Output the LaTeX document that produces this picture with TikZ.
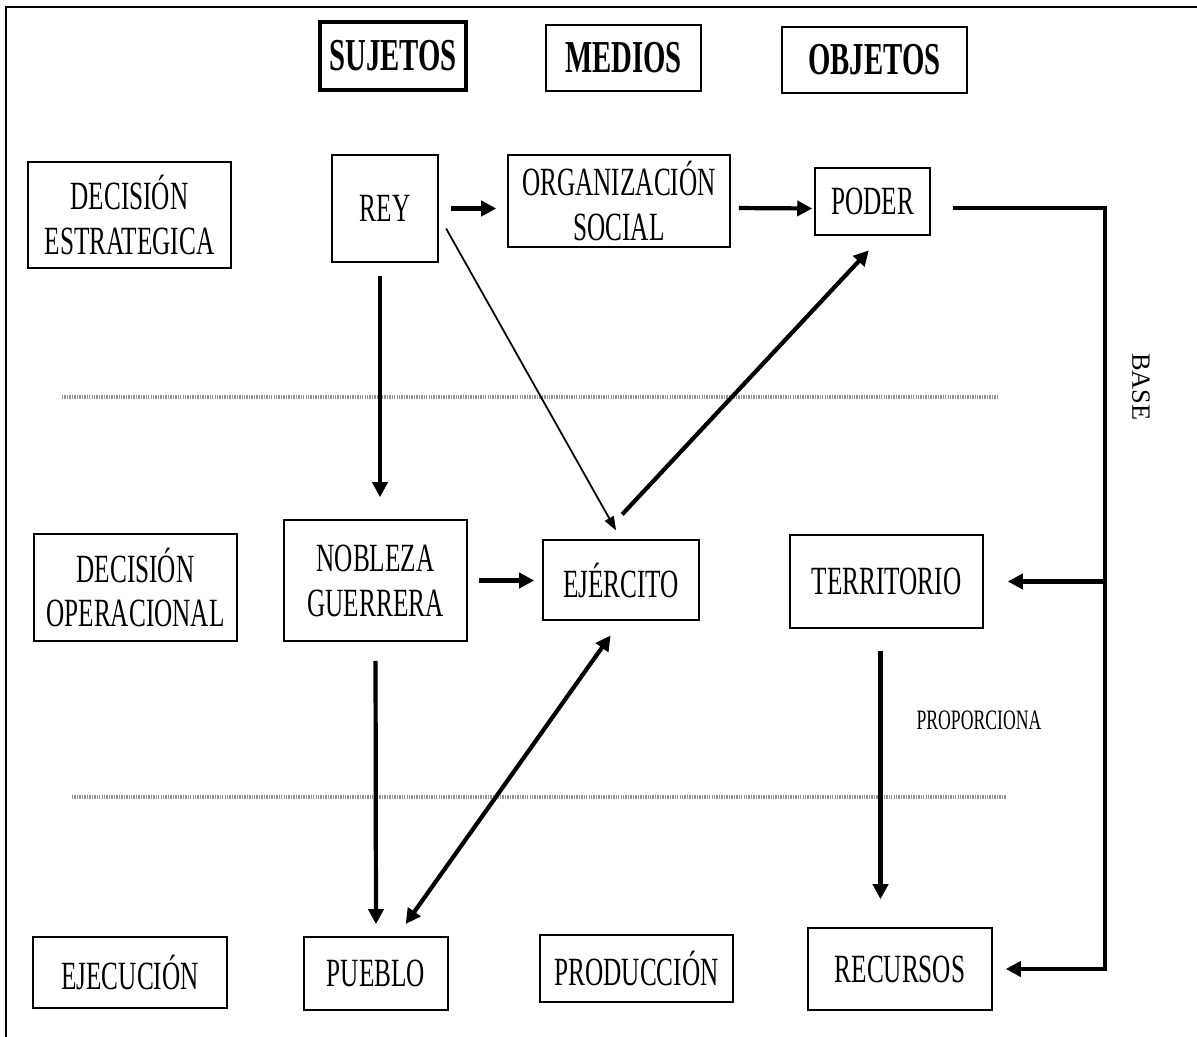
\documentclass[tikz,border=0pt]{standalone}
\usepackage{fontspec}
\setmainfont{Liberation Serif}[FakeStretch=0.63]
\newfontfamily\basefont{Liberation Serif}
\usetikzlibrary{arrows.meta}

\begin{document}
\begin{tikzpicture}[x=0.02cm, y=-0.02cm, >={Triangle[length=0.3cm, width=0.3cm]},
    caja/.style={draw, line width=.9pt, align=center, inner sep=0pt, font=\fontsize{22.8}{25.6}\selectfont},
    encabezado/.style={caja, font=\fontsize{26}{30}\selectfont\bfseries},
    flecha/.style={->, line width=2.4pt, shorten <=0.24cm, shorten >=0.22cm},
    fina/.style={-{Triangle[length=0.28cm, width=0.2cm]}, line width=1pt},
    punteada/.style={gray!85, line width=1.8pt, dash pattern=on .8pt off .6pt}]
    \useasboundingbox (0, 0) rectangle (1197, 1037);
    \draw[line width=1.4pt] (6, 1037) -- (6, 7) -- (1197, 7);

    % encabezados
    \node[encabezado, line width=2.4pt, minimum width=2.92cm, minimum height=1.36cm] (sujetos) at (393, 56) {SUJETOS};
    \node[encabezado, minimum width=3.1cm, minimum height=1.32cm] (medios) at (623.5, 58) {MEDIOS};
    \node[encabezado, minimum width=3.7cm, minimum height=1.32cm] (objetos) at (874.5, 60) {OBJETOS};

    % niveles
    \node[caja, minimum width=4.06cm, minimum height=2.12cm] (decest) at (129.5, 215) {DECISI\'ON\\ESTRATEGICA};
    \node[caja, minimum width=4.06cm, minimum height=2.14cm] (decop) at (135.5, 587.5) {DECISI\'ON\\OPERACIONAL};
    \node[caja, minimum width=3.88cm, minimum height=1.42cm] (ejec) at (130, 972.5) {EJECUCI\'ON};

    \node[caja, minimum width=2.12cm, minimum height=2.14cm] (rey) at (385, 208.5) {REY};
    \node[caja, minimum width=4.44cm, minimum height=1.84cm] (org) at (619, 201) {ORGANIZACI\'ON\\SOCIAL};
    \node[caja, minimum width=2.3cm, minimum height=1.34cm] (poder) at (872.5, 201.5) {PODER};

    \node[caja, minimum width=3.66cm, minimum height=2.42cm] (nobleza) at (375.5, 580.5) {NOBLEZA\\GUERRERA};
    \node[caja, minimum width=3.12cm, minimum height=1.6cm] (ejercito) at (621, 580) {EJ\'ERCITO};
    \node[caja, minimum width=3.86cm, minimum height=1.86cm] (territorio) at (886.5, 581.5) {TERRITORIO};

    \node[caja, minimum width=2.88cm, minimum height=1.46cm] (pueblo) at (376, 973.5) {PUEBLO};
    \node[caja, minimum width=3.86cm, minimum height=1.34cm] (produccion) at (636.5, 968.5) {PRODUCCI\'ON};
    \node[caja, minimum width=3.68cm, minimum height=1.64cm] (recursos) at (900, 969) {RECURSOS};

    \draw[punteada] (62, 397) -- (998, 397);
    \draw[punteada] (72, 797) -- (1006, 797);

    % flechas
    \draw[flecha] (rey.east) -- (rey.east -| org.west);
    \draw[flecha, shorten <=0.16cm, shorten >=0.04cm] ([yshift=-0.14cm]org.east) -- ([yshift=-0.14cm]poder.west);
    \draw[flecha, shorten <=0.26cm, shorten >=0.44cm] ([xshift=-0.1cm]rey.south) -- ([xshift=-0.1cm]rey.south |- nobleza.north);
    \draw[fina, shorten <=0.3cm, shorten >=0.2cm] ([yshift=-0.14cm]rey.east) -- (ejercito.north);
    \draw[flecha, shorten <=0.68cm, shorten >=0.4cm] ([xshift=-0.44cm]ejercito.north) -- ([xshift=0.2cm]poder.south);
    \draw[flecha, shorten <=0.22cm, shorten >=0.16cm] (nobleza.east) -- (nobleza.east -| ejercito.west);
    \draw[flecha, shorten <=0.38cm, shorten >=0.24cm] (nobleza.south) -- (pueblo.north);
    \draw[flecha, <->, shorten <=0.36cm, shorten >=0.3cm] (ejercito.south) -- ([xshift=0.42cm]pueblo.north);
    \draw[flecha, shorten <=0.44cm, shorten >=0.56cm] ([xshift=-0.12cm]territorio.south) -- ([xshift=-0.12cm]territorio.south |- recursos.north);

    \coordinate (base) at (1105, 208);
    \draw[flecha, shorten <=0.44cm, shorten >=0.26cm] (poder.east |- base) -- (base) |- (recursos.east);
    \draw[flecha, shorten <=0pt, shorten >=0.48cm] (base |- territorio.east) -- (territorio.east);

    \node[font=\fontsize{16}{18}\selectfont] (proporciona) at (979, 720) {PROPORCIONA};
    \node[rotate=-90, font=\basefont\fontsize{15}{18}\selectfont] (baselbl) at (1141, 387) {BASE};
\end{tikzpicture}
\end{document}
